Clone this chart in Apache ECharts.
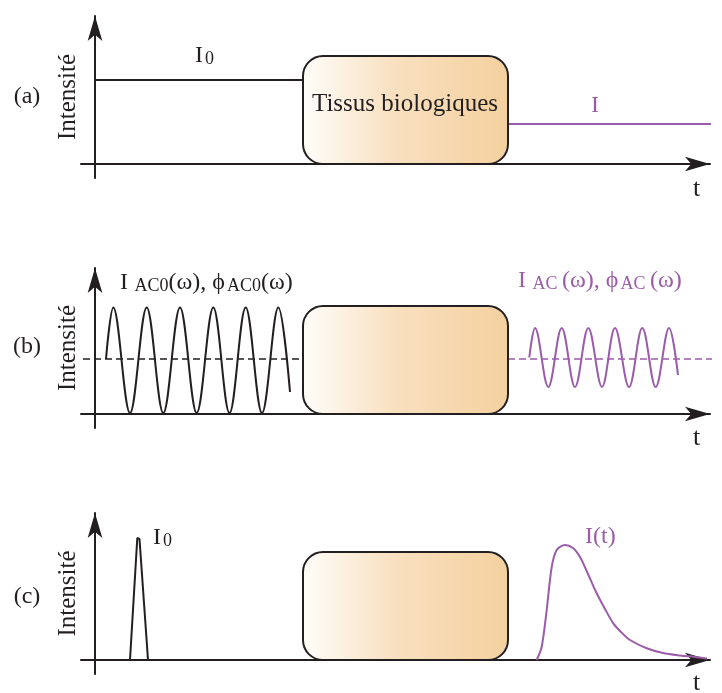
<!DOCTYPE html>
<html><head><meta charset="utf-8">
<script src="https://cdn.jsdelivr.net/npm/echarts@6/dist/echarts.min.js"></script>
<style>html,body{margin:0;padding:0;background:#fff}#c{width:722px;height:693px}</style>
</head><body><div id="c"></div>
<script>
const INK = '#231f20';
const PURPLE = '#9b5ca9';
const FONT = '"Liberation Serif", "Times New Roman", serif';

// ---- panel (a): continuous intensity ----
const aIncident = [[0, 84], [208, 84]];
const aTransmitted = [[412, 40], [620, 40]];

// ---- panel (b): modulated intensity (start, peaks, troughs, end) ----
const bIncidentWave = [[11,55],[18.3,106.5],[35,1],[51.7,106.5],[68.3,1],[85,106.5],[101.7,1],[118.3,106.5],[134.5,1],[150.7,106.5],[167,1],[183.3,106.5],[195,22]];
const bIncidentMean = [[-12, 55], [208, 55]];
const bTransWave = [[434.3,56.5],[440,86],[453.3,27],[466.7,86],[480,27],[493.3,86],[507,27],[520,86],[534,27],[547.3,86],[560.7,27],[574,86],[583,39]];
const bTransMean = [[413, 55], [627, 55]];

// ---- panel (c): pulsed intensity ----
const cIncidentPulse = [[35,0],[42.3,122],[44.5,121],[53,0]];
const cTransPulse = [[441.7,0],[446.7,13.3],[451.7,50],[456.7,93],[461.7,110],[470,115],[478,112],[485,103],[493,86],[501.7,66.7],[510,51],[518.3,36.7],[527,27],[535,20],[551.7,11.7],[568,7],[585,4.5],[600,3],[612,1.5]];

// tissue block extent [x0, y0, x1, y1]
const tissueBox = [208, 0, 413, 108];

const panelLetters = ['(a)', '(b)', '(c)'];
const yAxisName = 'Intensité';
const xAxisName = 't';
const tissueText = 'Tissus biologiques';

// label anchors (data units of each panel)
const labelsA = [
  {pos: [-68, 70], text: '{m|' + panelLetters[0] + '}', color: INK},
  {pos: [100, 111], text: '{m|I}{s|0}', color: INK, align: 'left'},
  {pos: [310, 60], text: '{b|' + tissueText + '}', color: INK},
  {pos: [500, 61], text: '{m|I}', color: PURPLE},
  {pos: [601.5, -25], text: '{t|' + xAxisName + '}', color: INK}
];
const labelsB = [
  {pos: [-68, 70], text: '{m|' + panelLetters[1] + '}', color: INK},
  {pos: [25, 134], text: '{m|I}{s| AC0}{m|(ω), ϕ}{s|AC0}{m|(ω)}', color: INK, align: 'left'},
  {pos: [423, 136], text: '{m|I}{s| AC }{m|(ω), ϕ}{s|AC }{m|(ω)}', color: PURPLE, align: 'left'},
  {pos: [601.5, -24], text: '{t|' + xAxisName + '}', color: INK}
];
const labelsC = [
  {pos: [-68, 66], text: '{m|' + panelLetters[2] + '}', color: INK},
  {pos: [58, 125], text: '{m|I}{s|0}', color: INK, align: 'left'},
  {pos: [490, 126], text: '{m|I(t)}', color: PURPLE, align: 'left'},
  {pos: [601.5, -23], text: '{t|' + xAxisName + '}', color: INK}
];

function rich(color) {
  return {
    m: {fontSize: 24, lineHeight: 30, verticalAlign: 'bottom', fontFamily: FONT, fill: color},
    s: {fontSize: 18, lineHeight: 13, verticalAlign: 'bottom', fontFamily: FONT, fill: color, padding: [0, 0, 0, 2]},
    b: {fontSize: 25, lineHeight: 30, fontFamily: FONT, fill: color},
    t: {fontSize: 26, lineHeight: 30, fontFamily: FONT, fill: color}
  };
}

const panels = [
  {top: 16, max: 148, height: 162},
  {top: 268, max: 146, height: 160},
  {top: 513, max: 147, height: 161}
];

const grid = [], xAxis = [], yAxis = [], series = [];
panels.forEach((p, i) => {
  grid.push({left: 81, right: 12, top: p.top, height: p.height});
  xAxis.push({
    type: 'value', gridIndex: i, min: -14, max: 615,
    axisLine: {show: true, onZero: true, symbol: ['none', 'arrow'], symbolSize: [11, 25],
      lineStyle: {color: INK, width: 2}},
    axisTick: {show: false}, axisLabel: {show: false}, splitLine: {show: false}
  });
  yAxis.push({
    type: 'value', gridIndex: i, min: -14, max: p.max,
    name: yAxisName, nameLocation: 'middle', nameRotate: 90, nameGap: 0,
    nameTextStyle: {fontFamily: FONT, fontSize: 25, color: INK},
    axisLine: {show: true, onZero: true, symbol: ['none', 'arrow'], symbolSize: [11, 25],
      lineStyle: {color: INK, width: 2}},
    axisTick: {show: false}, axisLabel: {show: false}, splitLine: {show: false}
  });
});

function lineSeries(gi, data, color, opts) {
  return Object.assign({
    type: 'line', xAxisIndex: gi, yAxisIndex: gi, data: data,
    symbol: 'none', showSymbol: false, clip: false, silent: true, z: 3,
    lineStyle: {color: color, width: 2}
  }, opts || {});
}

function boxSeries(gi) {
  return {
    type: 'custom', xAxisIndex: gi, yAxisIndex: gi, z: 5, silent: true, clip: false,
    data: [tissueBox],
    renderItem: function (params, api) {
      const p0 = api.coord([api.value(0), api.value(3)]);
      const p1 = api.coord([api.value(2), api.value(1)]);
      return {
        type: 'rect',
        shape: {x: p0[0], y: p0[1], width: p1[0] - p0[0], height: p1[1] - p0[1], r: 20},
        style: {
          fill: new echarts.graphic.LinearGradient(0, 0, 1, 0, [
            {offset: 0, color: '#fffdfa'},
            {offset: 0.45, color: '#f8e0bf'},
            {offset: 1, color: '#f4d09e'}
          ]),
          stroke: INK, lineWidth: 2
        }
      };
    }
  };
}

function labelSeries(gi, items) {
  return {
    type: 'custom', xAxisIndex: gi, yAxisIndex: gi, z: 10, silent: true, clip: false,
    data: items.map(it => it.pos),
    renderItem: function (params, api) {
      const it = items[params.dataIndex];
      const p = api.coord([api.value(0), api.value(1)]);
      return {
        type: 'text', x: p[0], y: p[1],
        style: {
          text: it.text, rich: rich(it.color), fill: it.color,
          fontFamily: FONT, fontSize: 24,
          align: it.align || 'center', verticalAlign: 'middle'
        }
      };
    }
  };
}

series.push(lineSeries(0, aIncident, INK));
series.push(lineSeries(0, aTransmitted, PURPLE));
series.push(boxSeries(0));
series.push(labelSeries(0, labelsA));

series.push(lineSeries(1, bIncidentMean, INK, {lineStyle: {color: INK, width: 1.3, type: [7, 4]}}));
series.push(lineSeries(1, bTransMean, PURPLE, {lineStyle: {color: PURPLE, width: 1.3, type: [7, 4]}}));
series.push(lineSeries(1, bIncidentWave, INK, {smooth: 0.364}));
series.push(lineSeries(1, bTransWave, PURPLE, {smooth: 0.364}));
series.push(boxSeries(1));
series.push(labelSeries(1, labelsB));

series.push(lineSeries(2, cIncidentPulse, INK));
series.push(lineSeries(2, cTransPulse, PURPLE, {smooth: 0.3}));
series.push(boxSeries(2));
series.push(labelSeries(2, labelsC));

const chart = echarts.init(document.getElementById('c'), null, {renderer: 'canvas'});
chart.setOption({
  animation: false,
  backgroundColor: '#ffffff',
  grid: grid, xAxis: xAxis, yAxis: yAxis, series: series
});
</script>
</body></html>
